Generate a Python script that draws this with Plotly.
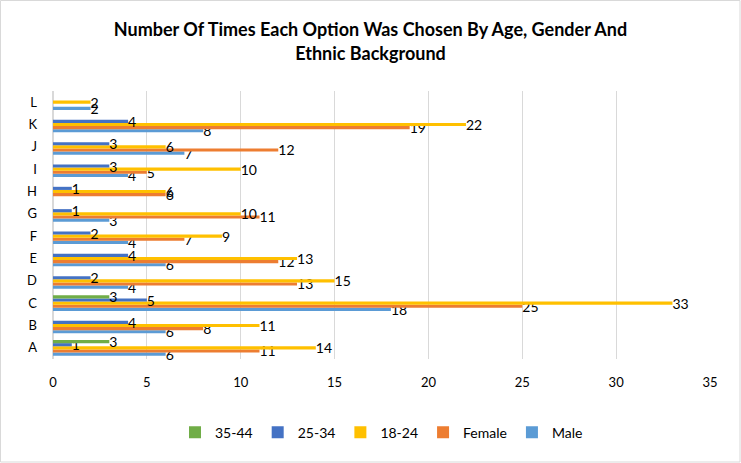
import plotly.graph_objects as go

categories = ["A", "B", "C", "D", "E", "F", "G", "H", "I", "J", "K", "L"]
male =    [6, 6, 18, 4, 6, 4, 3, None, 4, 7, 8, 2]
female =  [11, 8, 25, 13, 12, 7, 11, 6, 5, 12, 19, None]
age18_24 = [14, 11, 33, 15, 13, 9, 10, 6, 10, 6, 22, 2]
age25_34 = [1, 4, 5, 2, 4, 2, 1, 1, 3, 3, 4, None]
age35_44 = [3, None, 3, None, None, None, None, None, None, None, None, None]

series = [
    ("Male", male, "#5B9BD5"),
    ("Female", female, "#ED7D31"),
    ("18-24", age18_24, "#FFC000"),
    ("25-34", age25_34, "#4472C4"),
    ("35-44", age35_44, "#70AD47"),
]

fig = go.Figure()
for name, vals, color in series:
    fig.add_trace(go.Bar(
        y=categories, x=vals, name=name, orientation="h",
        marker=dict(color=color, line=dict(width=0)),
        text=[("" if v is None else str(v)) for v in vals],
        textposition="outside", constraintext="none", cliponaxis=False,
        textfont=dict(family="Lato, Liberation Sans, sans-serif", size=14, color="#000000"),
    ))

W, H = 741, 463
ml, mr, mt, mb = 53, 31, 91, 104
pw, ph = W - ml - mr, H - mt - mb

fig.update_layout(
    width=W, height=H,
    margin=dict(l=ml, r=mr, t=mt, b=mb, autoexpand=False),
    barmode="group", bargap=0.3, bargroupgap=0,
    plot_bgcolor="white", paper_bgcolor="white",
    font=dict(family="Lato, Liberation Sans, sans-serif", size=13, color="#000000"),
    title=dict(
        text="<b>Number Of Times Each Option Was Chosen By Age, Gender And<br>Ethnic Background</b>",
        x=0.5, xanchor="center", y=0.922, yanchor="top",
        font=dict(family="Lato, Liberation Sans, sans-serif", size=18, color="#000000"),
    ),
    legend=dict(
        orientation="h", x=0.5, xanchor="center", y=-0.275, yanchor="middle",
        traceorder="reversed", font=dict(size=14),
        itemwidth=30,
    ),
    showlegend=True,
)
fig.update_xaxes(
    range=[0, 35], dtick=5, showgrid=True, gridcolor="#D9D9D9", gridwidth=1,
    zeroline=True, zerolinecolor="#D9D9D9", showline=False, automargin=False,
    ticklabelstandoff=14, tickfont=dict(size=13),
)
fig.update_yaxes(
    categoryorder="array", categoryarray=categories, automargin=False,
    range=[-0.5, 11.5], showgrid=False, showline=False, ticks="",
    ticklabelstandoff=15, tickfont=dict(size=13),
)
fig.add_shape(
    type="rect", xref="paper", yref="paper",
    x0=(-ml + 0.5) / pw, x1=1 + (mr - 1) / pw,
    y0=-(mb - 1) / ph, y1=1 + (mt - 0.5) / ph,
    line=dict(color="#D9D9D9", width=1), fillcolor="rgba(0,0,0,0)",
)

fig.write_html("out.html", config={"displayModeBar": False},
               post_script="document.body.style.margin='0';")
